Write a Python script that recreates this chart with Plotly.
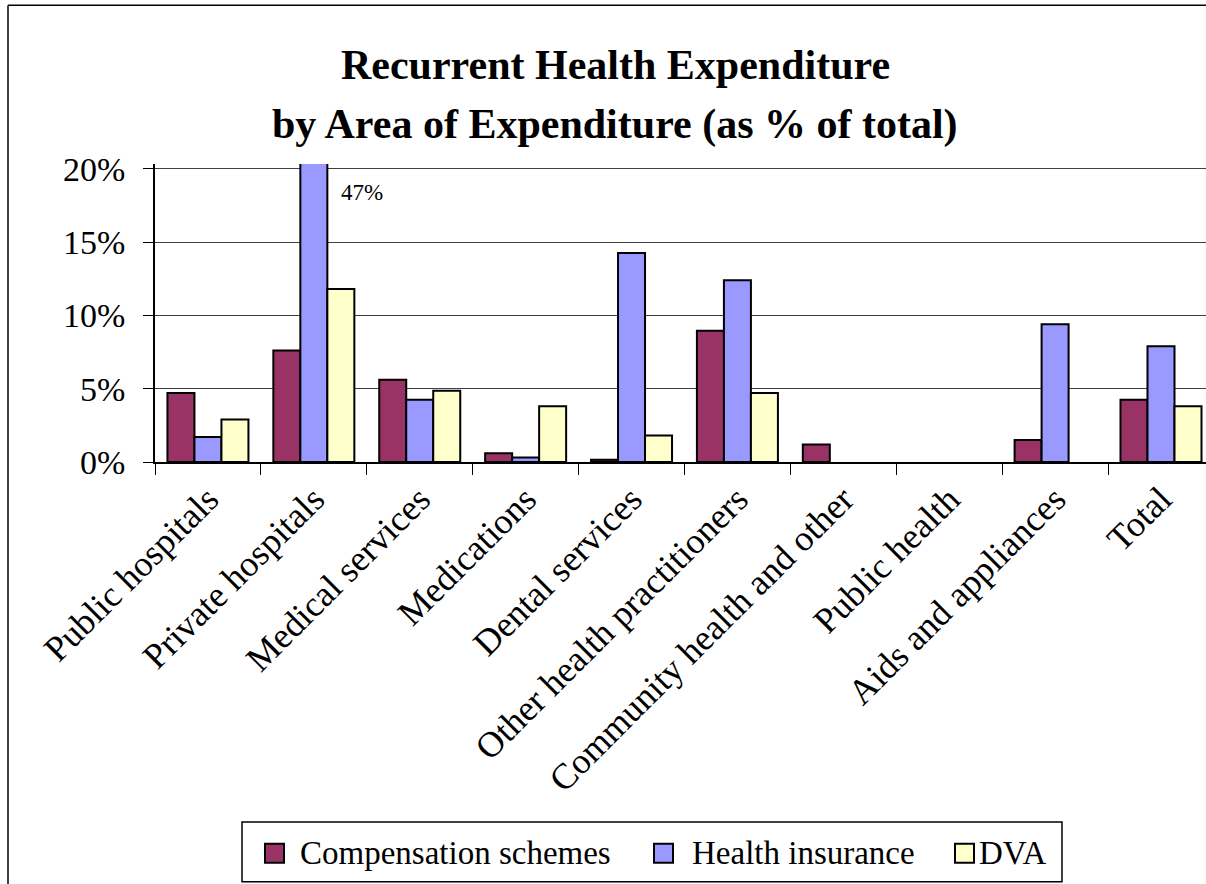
import plotly.graph_objects as go

# Area of expenditure categories
categories = [
    "Public hospitals", "Private hospitals", "Medical services", "Medications",
    "Dental services", "Other health practitioners", "Community health and other",
    "Public health", "Aids and appliances", "Total",
]

# Share of recurrent health expenditure (%) by funding source
compensation_schemes = [4.7, 7.6, 5.6, 0.6, 0.15, 8.95, 1.2, 0.0, 1.5, 4.25]
health_insurance = [1.7, 47.0, 4.25, 0.3, 14.25, 12.4, 0.0, 0.0, 9.4, 7.9]
dva = [2.9, 11.8, 4.85, 3.8, 1.8, 4.7, 0.0, 0.0, 0.0, 3.8]

series_names = ["Compensation schemes", "Health insurance", "DVA"]
series_colors = ["#993366", "#9999FF", "#FFFFCC"]

y_ticks = [0, 5, 10, 15, 20]
y_tick_labels = ["0%", "5%", "10%", "15%", "20%"]

FONT = "Liberation Serif"

# Figure geometry (pixels)
W, H = 1206, 884
ML, MT, MB = 155, 164, 421.5
PW, PH = W - ML, H - MT - MB


def px_x(xp):
    return (xp - ML) / PW


def px_y(yp):
    return (H - MB - yp) / PH


fig = go.Figure()
for name, vals, col in zip(series_names,
                           [compensation_schemes, health_insurance, dva],
                           series_colors):
    # no outline on empty bars
    widths = [2 if v > 0 else 0 for v in vals]
    fig.add_trace(go.Bar(
        x=categories, y=vals, name=name, showlegend=False,
        marker=dict(color=col, line=dict(color="black", width=widths)),
    ))

# Value label for the bar that runs off the top of the axis
fig.add_annotation(
    x=1, y=18.4, xref="x", yref="y", xshift=48,
    text=f"{health_insurance[1]:.0f}%", showarrow=False,
    font=dict(family=FONT, size=23, color="black"),
)

# Two-line chart title
title_lines = ["Recurrent Health Expenditure", "by Area of Expenditure (as % of total)"]
for line, ypix in zip(title_lines, [65, 124]):
    fig.add_annotation(
        x=px_x(615), y=px_y(ypix), xref="paper", yref="paper",
        text=f"<b>{line}</b>", showarrow=False,
        xanchor="center", yanchor="middle",
        font=dict(family=FONT, size=42, color="black"),
    )

# Outer chart frame (left and top edges)
frame = dict(color="black", width=1.5)
fig.add_shape(type="line", xref="paper", yref="paper",
              x0=px_x(8), x1=px_x(8), y0=px_y(5), y1=px_y(H + 10), line=frame)
fig.add_shape(type="line", xref="paper", yref="paper",
              x0=px_x(8), x1=px_x(W + 10), y0=px_y(5), y1=px_y(5), line=frame)

# Legend box with a swatch and label per series
fig.add_shape(type="rect", xref="paper", yref="paper",
              x0=px_x(242), x1=px_x(1062), y0=px_y(883), y1=px_y(823),
              line=dict(color="black", width=1.5), fillcolor="white")
swatch_left = [265, 654, 955]
label_left = [298, 690, 977]
for name, col, sx, lx in zip(series_names, series_colors, swatch_left, label_left):
    fig.add_shape(type="rect", xref="paper", yref="paper",
                  x0=px_x(sx), x1=px_x(sx + 19), y0=px_y(864), y1=px_y(845),
                  line=dict(color="black", width=2), fillcolor=col)
    fig.add_annotation(
        x=px_x(lx), y=px_y(854), xref="paper", yref="paper",
        text=name, showarrow=False, xanchor="left", yanchor="middle",
        font=dict(family=FONT, size=33, color="black"),
    )

fig.update_layout(
    width=W, height=H,
    margin=dict(l=ML, r=0, t=MT, b=MB),
    paper_bgcolor="white", plot_bgcolor="white",
    barmode="group", bargap=0.235, bargroupgap=0,
    font=dict(family=FONT, color="black"),
    showlegend=False,
)

fig.update_xaxes(
    range=[-0.5, 9.425],
    tickangle=-45, tickson="boundaries", ticks="outside", ticklen=11,
    tickcolor="black", tickwidth=1,
    showline=True, linecolor="black", linewidth=1.5,
    tickfont=dict(family=FONT, size=36, color="black"),
    showgrid=False, zeroline=False,
)
fig.update_yaxes(
    range=[0, 20.32],
    tickvals=y_ticks, ticktext=y_tick_labels,
    ticks="outside", ticklen=10, tickcolor="black",
    ticklabelstandoff=11,
    showline=True, linecolor="black", linewidth=1.5,
    showgrid=True, gridcolor="#404040", gridwidth=1.2,
    zeroline=False,
    tickfont=dict(family=FONT, size=34, color="black"),
)

# keep the page free of scrollbars
fig.write_html(
    "out.html",
    config={"displayModeBar": False},
    post_script="document.documentElement.style.overflow='hidden';"
                "document.body.style.overflow='hidden';"
                "document.body.style.margin='0';",
)
